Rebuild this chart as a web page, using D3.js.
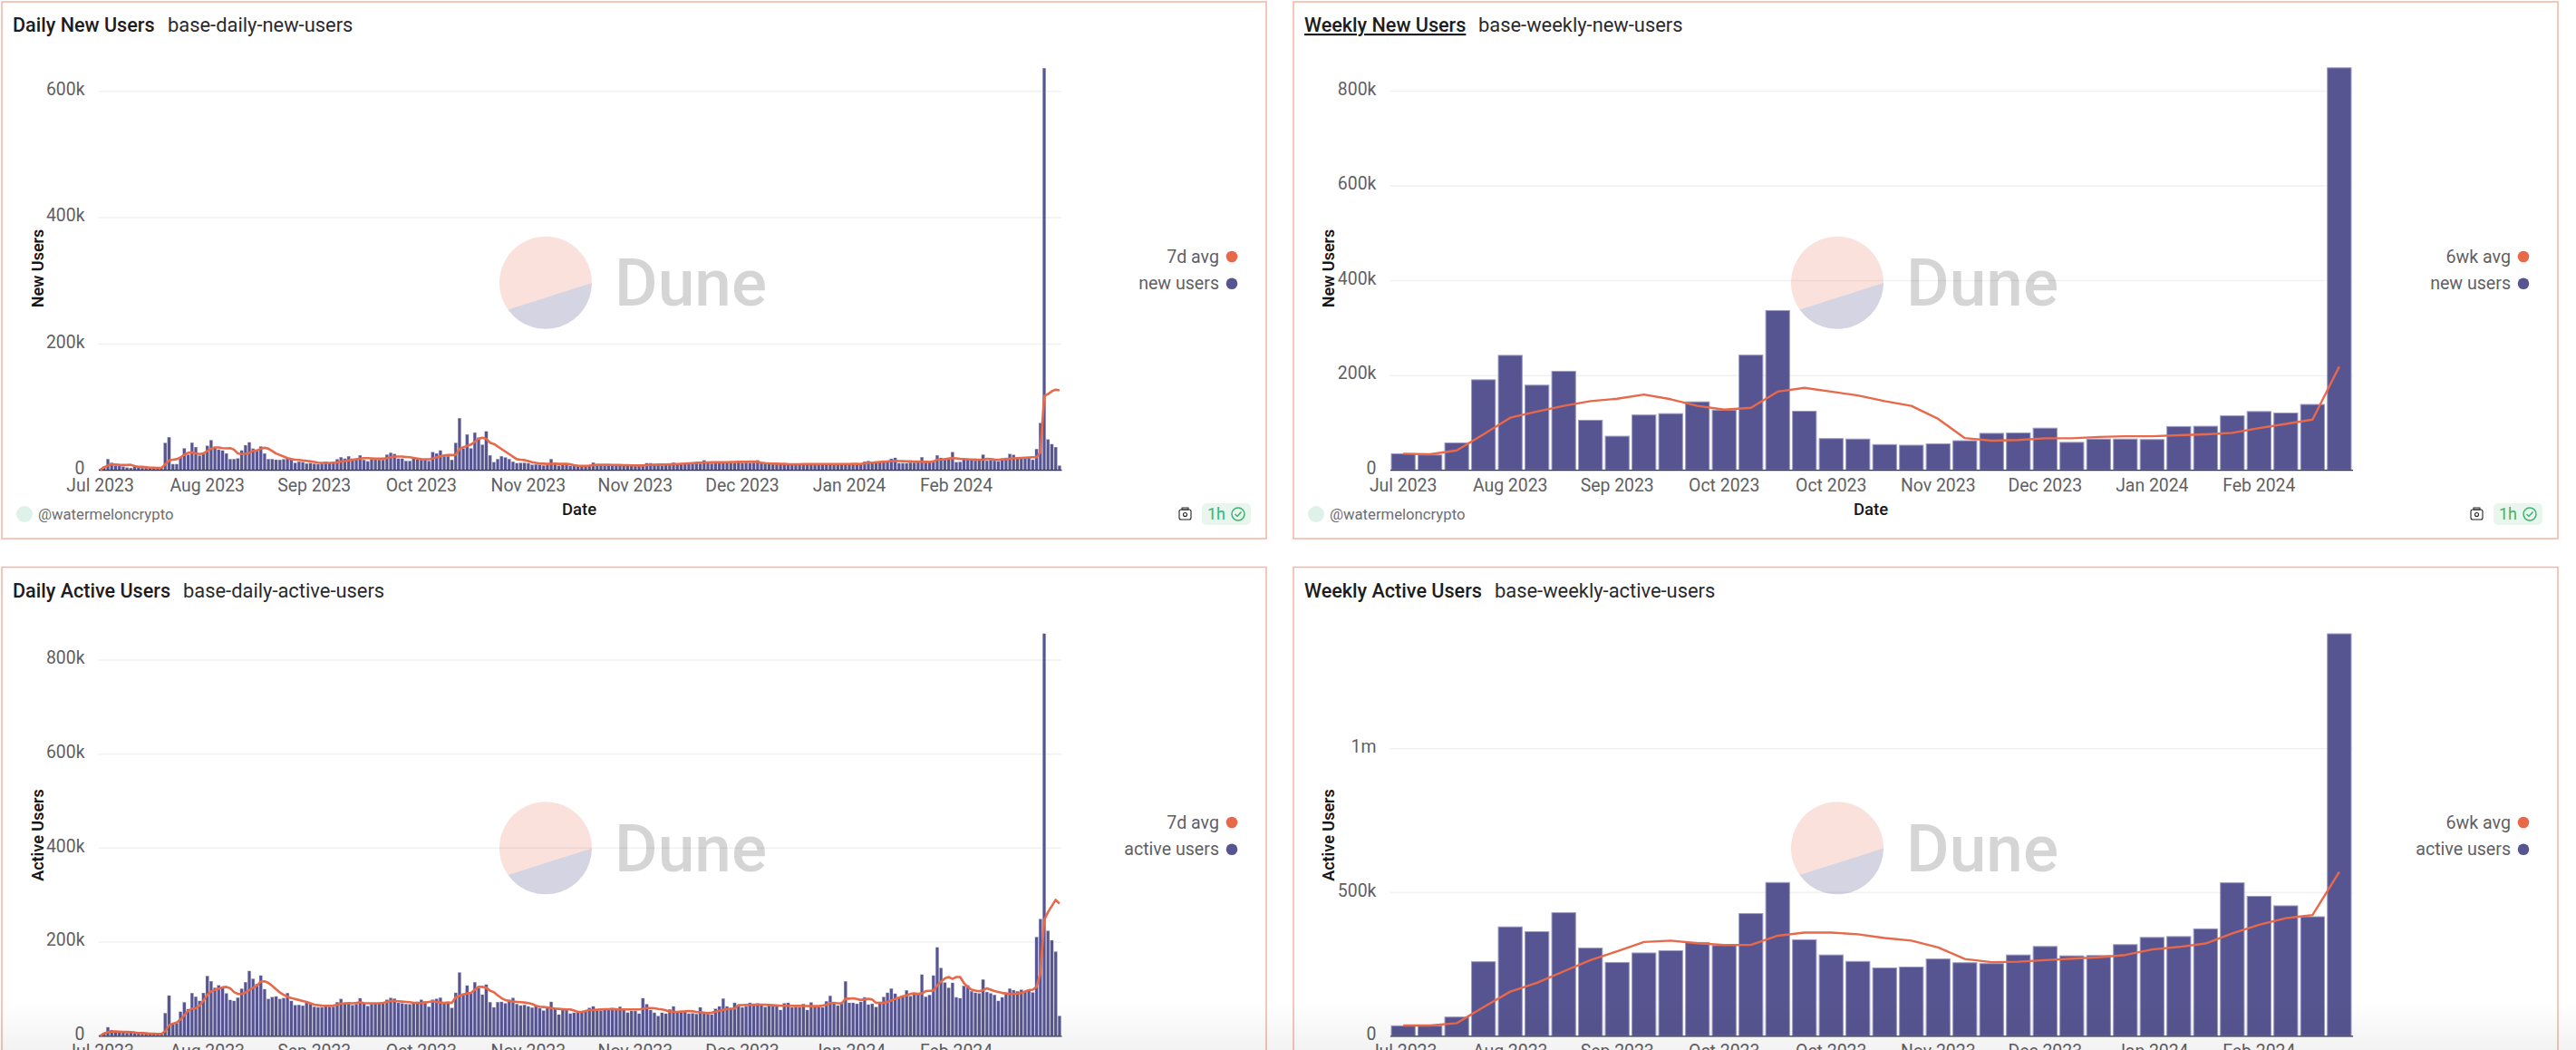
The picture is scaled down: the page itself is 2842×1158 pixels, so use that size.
<!DOCTYPE html>
<html>
<head>
<meta charset="utf-8">
<script src="https://cdnjs.cloudflare.com/ajax/libs/d3/7.8.5/d3.min.js"></script>
<style>
  html, body { margin: 0; padding: 0; background: #fff; overflow: hidden; }
  svg { display: block; }
  text { font-family: Roboto, sans-serif; }
</style>
</head>
<body>
<div id="chart"></div>
<script>
// all values in thousands of users, one per day / one per week
var dailyNewUsers = [
  1,5,17,11,7,6,5,3.5,3,5,
  4,3,3,3,2.5,2.5,2.5,42.6,51.7,9,
  9,19,34,24,43,36,22.5,26,38,47,
  35,32,30.6,26,17,17,18,30.6,39,43.5,
  33.5,31,37,26,17,17,16,15.8,16.7,18,
  16,11,13,12,10,10.5,9.6,9,10,13,
  11,13,16.7,20,17.7,21.5,17.7,17.7,23,15.8,
  13.4,16.7,16,15.8,15.8,24,27,25,17.7,17.7,
  14,14,19,16.7,15.8,15.8,14,28,26,30.6,
  21.5,21.5,15.8,42.6,81.8,34,56,34,59,51,
  39.7,60.8,23,12,17,21.5,19.6,17,13,10.5,
  11,11,10.5,8,8.6,8,7,7.5,17,11,
  6.7,8,7.5,6.3,6.7,5.7,5.7,6.2,7.5,11.5,
  8,7.5,7,7.5,7,7,6.5,6.5,7,6.5,
  6,6,7,10.5,10.5,9,8.5,7,8,9,
  11.5,10,9,9,9.5,10,10.5,10,15,11,
  10,10.5,11,10.5,11,11,11,14,11,11.5,
  11,11.5,15,11,10,9.5,9,9,9,8.5,
  8,8.5,8,8,8.5,8.5,8,8,8.5,8.5,
  8,8.5,8.5,8,8,8.5,8,8,8.5,9,
  13,14,12,11,12,14,14,17.5,19,10.5,
  10.5,10.5,11.5,11.5,12,20,13,12.5,13,23,
  19,16,17,28,12,12.5,16.5,16,15,14.5,
  15,24,14.5,15.5,14.5,13.5,18,19,25,23.6,
  18,18,18,19,16,33,74,636,48,40.6,
  36,6.6
];
var dailyNewAvg = [
  0,4,7,9,8.6,8,7.7,7.7,8,6,
  5,4.8,4.3,3.5,3.3,3,3.3,8.5,15,16,
  17,19.6,24,27,27.7,26,25,26,30,33.5,
  35.4,35.4,34.5,34,34.5,32,26,25,25.5,27,
  30,30.6,33.5,35,33.5,30,26,23.5,21,18.7,
  17,16,15.8,15,14.4,13.4,12.4,11.5,11,11,
  11,11.5,12,13,14,15,15.8,16.7,17.7,18.7,
  18.7,18.2,17.7,17.7,17.7,18.7,20,21,21,21,
  20.5,20,19,18,17,16.7,16.7,18,20,21.5,
  23,23.5,23.5,24,33,36,38,40,44.5,49,
  51,49,43,41,37,33,29,25,21,17,
  16,15.5,14,12,11,10,9.8,9.5,9.6,9.8,
  9.5,9.5,9.4,8.8,7.5,6.7,6.3,6.3,6.8,7.5,
  8,8.2,8.2,8,7.8,7.8,7.6,7.5,7.4,7.2,
  7.2,7,7,7.5,8,8.2,8.3,8.4,8.5,8.7,
  9,9.3,9.6,10,10.4,10.8,11.2,11.5,11.7,11.8,
  11.9,12,12,12,12.2,12.4,12.5,12.6,12.7,12.8,
  13,13,12.6,11.5,10.8,10.3,10,9.8,9.6,9.4,
  9.1,9,8.9,9,9.1,9.2,9.2,9.1,9.1,9.2,
  9.2,9.2,9.1,9.1,9.2,9.2,9.3,9.4,9.6,9.3,
  10.4,11,11.5,12,12.6,13,13.4,14,14.2,14,
  13.8,13.6,13.4,13.2,13,12.8,12.7,12.6,13.4,16,
  16.4,17,18,18.7,18.2,17.6,17.2,16.8,16.5,16.2,
  16,16,17.6,17,16.4,16,16.5,17,17.6,18.2,
  18.7,19,19.4,19.7,20,20,28,117,120,124.6,
  127,126
];
var dailyActiveUsers = [
  1,5.8,18,12,9.6,8,7,6,6.4,5,
  4.5,4,4,3.2,3.2,3.2,3,48,85.5,24,
  26,51,71,56.6,90.7,83,74,91,127,116,
  102,107,102,90,76,74,81,100,114,137.6,
  121,110,128,99,78,82,83.6,78,80,90.7,
  74,65,65.6,64,70,67.5,61.7,60.4,60.4,62.4,
  61.7,61.7,71.4,78,68.8,69.4,65,67.5,79.7,68.8,
  63,67.5,68.8,68.8,68.8,76.5,80.4,79,70,68.8,
  67.5,66.9,69.4,72,76.5,72.7,61.7,76.5,78.4,81,
  68.8,68.8,59,91.3,134.4,89.4,106.7,90.7,113.8,101,
  87.4,108.7,71.4,60.4,71.4,72,68.8,76.5,80.4,67.5,
  64.3,65.6,62.4,59.8,62.4,58.5,53.4,59,72,58.5,
  45,54.7,54.7,47,48.9,50.8,50.8,50.8,59,62.4,
  53.4,53.4,56,56,56,58.5,61.7,57,49,52.7,
  52.7,47,79.7,66.9,54.7,48.9,41.8,48.9,47,56,
  62.4,49.5,50.8,52.7,47,47.6,46.3,60.4,47.6,46.3,
  45,57.2,62.4,79,62.4,58.5,70,62.4,60.4,62.4,
  70,68,68.8,68,61,65.6,62.4,63.7,54.7,68.8,
  70,60.4,61,60.4,67.5,54.7,70.7,62.4,61.7,60.4,
  73.3,84.9,72,64.3,68.8,115.7,70,70,68,72,
  81.7,66.2,68,61,72,82.3,91.3,100.3,89.4,81.7,
  83.6,96.5,84.2,88,88,130,83,86.8,128,187.8,
  144,113,102,112.5,81.7,79.7,106,107,94.5,91.3,
  90,119.6,93,90,86.8,74,81.7,89.4,100.3,97,
  94.5,97.7,94.5,98.4,92,209.8,248,855,223,203,
  178.7,42
];
var dailyActiveAvg = [
  0,5,7.7,9,9,8.7,8.4,8.4,7.7,7,
  6,5.8,5.1,4.5,4.5,3.9,3.9,9.6,22.5,25.7,
  28,34.7,43.7,52.7,58,58.5,63.7,75,87,94,
  97.7,100,103,104,101,93,89,88.7,92,97,
  102,107,115,115.7,112.5,106,99,92,87,83,
  80,78,76,74,72,69,66,65,64,63.7,
  63.7,64,66,68,69,69.4,69,70,71.4,69.4,
  69,69,69,69.4,70,72,74,74,73.3,72.7,
  72,71.4,70,70,69.4,70.7,72,73.3,72,70.7,
  70,70.7,70,81.7,85,88,90,91.3,97.7,104,
  104,102,95.8,92.6,86,80,75.9,74,72.7,72,
  71.4,70.7,69.4,67.5,63.7,61.7,61,60.4,59,57.9,
  57.2,56.6,56,56,53.4,50.8,50.8,52.7,54.7,54.7,
  55.3,56,56.6,56.6,57.2,56,56,56,56,56,
  56,56,57.5,59,59,58.5,57,56,54,51.4,
  51,50.8,51.5,52,52.7,52,50.8,50,49,48,
  49,51,53,55,56.6,57.5,58,65,65.3,65.4,
  65.6,65.8,66,66,66,65.5,65,64.5,63.7,63.7,
  63.7,63.7,63.5,63.5,63.2,63.2,63,63,63,64,
  66,69.4,69.4,69,69,78.4,79,79.7,78,76,
  77.5,78.5,77,70,70,70,72,75,78.4,81,
  84,86,89,90,89,90,95,95.5,96,107,
  115,122,125,121,125,125,112,104,98,96,
  94.5,97,101,98,95,93,91,90,89,89.4,
  89.6,91,94,97,98,104,133,246,263,276,
  289,281
];
var weeklyNewUsers = [34,31.5,57,190,241.5,178.6,208,104.7,71,115.7,118.6,143.5,126,242,336,123.7,66,65,53.4,52,55,61.5,77,78,88,58,65,65,64,91.5,92,114,123,120,138,848];
var weeklyNewAvg = [34,33,41,75,110,123,135,145,150,159,149,135,127,131,165,173,165,157,145,135,107.6,67,61.5,63,66.6,66.6,69.5,71,71,73,75,78,88,97,106,218];
var weeklyActiveUsers = [34.6,34,65,257.5,378.7,362,428,305,255,288,296,324.6,314,425,533,334,281,258.6,236,239,267,254,251,281,310.5,278,279,317,342,345,372,532,485,452,414,1398];
var weeklyActiveAvg = [35.7,35.7,44,99.5,153.6,184,224,263,294,326,331,322,316,316,348,359,359,353,340,331,307,267,256,257.5,263,268,273,281,300,309,321,356,386,409,420,570];

var dailyLabels = ["Jul 2023","Aug 2023","Sep 2023","Oct 2023","Nov 2023","Nov 2023","Dec 2023","Jan 2024","Feb 2024"];
var weeklyLabels = ["Jul 2023","Aug 2023","Sep 2023","Oct 2023","Oct 2023","Nov 2023","Dec 2023","Jan 2024","Feb 2024"];

var barColor = "#575591";
var lineColor = "#e8694a";

var svg = d3.select("#chart").append("svg").attr("width", 2842).attr("height", 1158);

function fmt(v) {
  if (v === 0) return "0";
  return v >= 1000 ? (v / 1000) + "m" : v + "k";
}

function drawPanel(o) {
  var g = svg.append("g").attr("transform", "translate(" + o.left + "," + o.top + ")");
  var w = o.right - o.left;

  g.append("rect").attr("x", 0).attr("y", 0).attr("width", w).attr("height", 592)
    .attr("fill", "#fff").attr("stroke", "#f5b4a4").attr("stroke-width", 1.5);

  // titles
  var t = g.append("text").attr("x", 12).attr("y", 33).attr("font-size", 21.6).attr("font-weight", 500)
    .attr("fill", "#1d1d21").text(o.title);
  if (o.underline) t.attr("text-decoration", "underline");
  g.append("text").attr("x", o.subX).attr("y", 33).attr("font-size", 21.9).attr("fill", "#2a2a2e").text(o.sub);

  // scales, in panel coordinates
  var x = d3.scaleBand().domain(d3.range(o.bars.length)).range([o.x0, o.x1]).paddingInner(o.pad).paddingOuter(o.pad / 2);
  var y = d3.scaleLinear().domain([0, o.topVal]).range([o.base, o.topY]);

  // grid
  var grid = g.append("g").attr("transform", "translate(" + o.x0 + ",0)")
    .call(d3.axisLeft(y).tickValues(o.ticks).tickSize(-(o.x1 - o.x0)).tickFormat(""));
  grid.select(".domain").remove();
  grid.selectAll("line").attr("stroke", "#f1f1f2").attr("stroke-width", 1.5)
    .filter(function(d) { return d === 0; }).remove();

  // y labels
  var yAxis = g.append("g").attr("transform", "translate(" + (o.x0 - 12) + ",0)")
    .call(d3.axisLeft(y).tickValues(o.ticks).tickSize(0).tickFormat(fmt));
  yAxis.select(".domain").remove();
  yAxis.selectAll("text").attr("font-size", 19.4).attr("fill", "#5f5f64").attr("font-family", "Roboto, sans-serif").attr("dy", "0.22em");

  // bars
  g.selectAll("rect.bar").data(o.bars).enter().append("rect").attr("class", "bar")
    .attr("x", function(d, i) { return x(i); })
    .attr("y", function(d) { return y(d); })
    .attr("width", x.bandwidth())
    .attr("height", function(d) { return y(0) - y(d); })
    .attr("fill", barColor)
    .attr("stroke", "#9d9cc2")
    .attr("stroke-width", o.barStroke);

  // x axis
  var xAxis = g.append("g").attr("transform", "translate(0," + o.base + ")")
    .call(d3.axisBottom(x)
      .tickValues(o.tickIdx)
      .tickSize(0)
      .tickFormat(function(d, i) { return o.labels[i]; }));
  xAxis.select(".domain").attr("stroke", "#33324f").attr("stroke-width", 1.2);
  xAxis.selectAll("text").attr("font-size", 19.4).attr("fill", "#5f5f64").attr("font-family", "Roboto, sans-serif").attr("dy", "1.05em");

  // moving average line
  var line = d3.line()
    .x(function(d, i) { return x(i) + x.bandwidth() / 2; })
    .y(function(d) { return y(d); });
  g.append("path").datum(o.avg).attr("d", line).attr("fill", "none")
    .attr("stroke", lineColor).attr("stroke-width", o.lineW).attr("stroke-linejoin", "round");

  // axis titles
  g.append("text").attr("transform", "translate(" + (o.x0 - 61) + "," + o.yTitleY + ") rotate(-90)")
    .attr("text-anchor", "middle").attr("font-size", 18).attr("font-weight", 600)
    .attr("font-family", "Inter, sans-serif").attr("fill", "#17171a").text(o.yTitle);
  g.append("text").attr("x", o.dateX).attr("y", 566).attr("text-anchor", "middle")
    .attr("font-size", 18.5).attr("font-weight", 500).attr("fill", "#17171a").text("Date");

  // legend
  var legend = [[o.avgName, lineColor], [o.barName, barColor]];
  legend.forEach(function(d, i) {
    var ly = o.legendY + i * o.legendGap;
    g.append("text").attr("x", o.legendX).attr("y", ly + 6.5).attr("text-anchor", "end")
      .attr("font-size", 19.6).attr("fill", "#5f5f64").text(d[0]);
    g.append("circle").attr("cx", o.legendX + 14).attr("cy", ly).attr("r", 6.3).attr("fill", d[1]);
  });

  // watermark pie and word
  var cx = o.markX, cy = o.markY, r = 51;
  var pie = g.append("g").attr("transform", "translate(" + cx + "," + cy + ")");
  pie.append("path").attr("d", "M" + r + ",0 A" + r + "," + r + " 0 1,0 " + (-41.5) + "," + 29.5 + " Z")
    .attr("fill", lineColor).attr("fill-opacity", 0.2);
  pie.append("path").attr("d", "M" + r + ",0 A" + r + "," + r + " 0 0,1 " + (-41.5) + "," + 29.5 + " Z")
    .attr("fill", barColor).attr("fill-opacity", 0.25);
  g.append("text").attr("x", cx + 76).attr("y", cy + 25).attr("font-size", 73).attr("font-weight", 500)
    .attr("fill", "#000").attr("fill-opacity", 0.165).text("Dune");

  // footer
  g.append("ellipse").attr("cx", o.footX).attr("cy", 565).attr("rx", 9).attr("ry", 9).attr("fill", "#dff2e9");
  g.append("text").attr("x", o.footX + 15).attr("y", 571).attr("font-size", 16.7).attr("fill", "#6d6d72").text("@watermeloncrypto");

  var f = g.append("g").attr("transform", "translate(" + o.badgeX + ",0)");
  f.append("rect").attr("x", 0).attr("y", 553).attr("width", 54).attr("height", 24).attr("rx", 5).attr("fill", "#e8f6ee");
  f.append("text").attr("x", 6).attr("y", 571).attr("font-size", 18).attr("fill", "#3cb371").text("1h");
  f.append("circle").attr("cx", 40).attr("cy", 565).attr("r", 7).attr("fill", "none").attr("stroke", "#3cb371").attr("stroke-width", 1.5);
  f.append("path").attr("d", "M36.5,565 l2.5,2.5 l4.5,-5").attr("fill", "none").attr("stroke", "#3cb371").attr("stroke-width", 1.5);
  // camera
  f.append("rect").attr("x", -25).attr("y", 560).attr("width", 13).attr("height", 11).attr("rx", 2).attr("fill", "none").attr("stroke", "#222").attr("stroke-width", 1.1);
  f.append("rect").attr("x", -22).attr("y", 558).attr("width", 7).attr("height", 2).attr("fill", "none").attr("stroke", "#222").attr("stroke-width", 1);
  f.append("circle").attr("cx", -18.5).attr("cy", 565.5).attr("r", 2).attr("fill", "none").attr("stroke", "#222").attr("stroke-width", 1.1);
}

var dailyTicks = [0, 28, 56, 84, 112, 140, 168, 196, 224];
var weeklyTicks = [0, 4, 8, 12, 16, 20, 24, 28, 32];

// top left
drawPanel({ left: 2, top: 2, right: 1397, title: "Daily New Users", sub: "base-daily-new-users", subX: 183,
  bars: dailyNewUsers, avg: dailyNewAvg, pad: 0.22, barStroke: 0.3, lineW: 2.6,
  x0: 106.5, x1: 1169, base: 516.2, topVal: 600, topY: 98.3, ticks: [0, 200, 400, 600],
  tickIdx: dailyTicks, labels: dailyLabels, yTitle: "New Users", yTitleY: 294, dateX: 637,
  avgName: "7d avg", barName: "new users", legendX: 1343, legendY: 281, legendGap: 29.7,
  markX: 600, markY: 310, footX: 25, badgeX: 1324 });

// top right
drawPanel({ left: 1427, top: 2, right: 2822, title: "Weekly New Users", sub: "base-weekly-new-users", subX: 204, underline: true,
  bars: weeklyNewUsers, avg: weeklyNewAvg, pad: 0.11, barStroke: 1, lineW: 2.4,
  x0: 106.4, x1: 1168.6, base: 516.2, topVal: 800, topY: 97.9, ticks: [0, 200, 400, 600, 800],
  tickIdx: weeklyTicks, labels: weeklyLabels, yTitle: "New Users", yTitleY: 294, dateX: 637,
  avgName: "6wk avg", barName: "new users", legendX: 1343, legendY: 281, legendGap: 29.7,
  markX: 600, markY: 310, footX: 25, badgeX: 1324 });

// bottom left
drawPanel({ left: 2, top: 625.5, right: 1397, title: "Daily Active Users", sub: "base-daily-active-users", subX: 200,
  bars: dailyActiveUsers, avg: dailyActiveAvg, pad: 0.22, barStroke: 0.3, lineW: 2.6,
  x0: 106.5, x1: 1169, base: 516.8, topVal: 800, topY: 101.9, ticks: [0, 200, 400, 600, 800],
  tickIdx: dailyTicks, labels: dailyLabels, yTitle: "Active Users", yTitleY: 295.5, dateX: 637,
  avgName: "7d avg", barName: "active users", legendX: 1343, legendY: 281.5, legendGap: 29.7,
  markX: 600, markY: 310, footX: 25, badgeX: 1324 });

// bottom right
drawPanel({ left: 1427, top: 625.5, right: 2822, title: "Weekly Active Users", sub: "base-weekly-active-users", subX: 222,
  bars: weeklyActiveUsers, avg: weeklyActiveAvg, pad: 0.11, barStroke: 1, lineW: 2.4,
  x0: 106.4, x1: 1168.6, base: 516.8, topVal: 1000, topY: 199.7, ticks: [0, 500, 1000],
  tickIdx: weeklyTicks, labels: weeklyLabels, yTitle: "Active Users", yTitleY: 295.5, dateX: 637,
  avgName: "6wk avg", barName: "active users", legendX: 1343, legendY: 281.5, legendGap: 29.7,
  markX: 600, markY: 310, footX: 25, badgeX: 1324 });

// faint grey fade along the bottom of the page
var defs = svg.append("defs");
var fade = defs.append("linearGradient").attr("id", "fade").attr("x1", 0).attr("y1", 0).attr("x2", 0).attr("y2", 1);
fade.append("stop").attr("offset", 0).attr("stop-color", "#000").attr("stop-opacity", 0);
fade.append("stop").attr("offset", 1).attr("stop-color", "#000").attr("stop-opacity", 0.05);
svg.append("rect").attr("x", 0).attr("y", 1105).attr("width", 2842).attr("height", 53).attr("fill", "url(#fade)");
</script>
</body>
</html>
